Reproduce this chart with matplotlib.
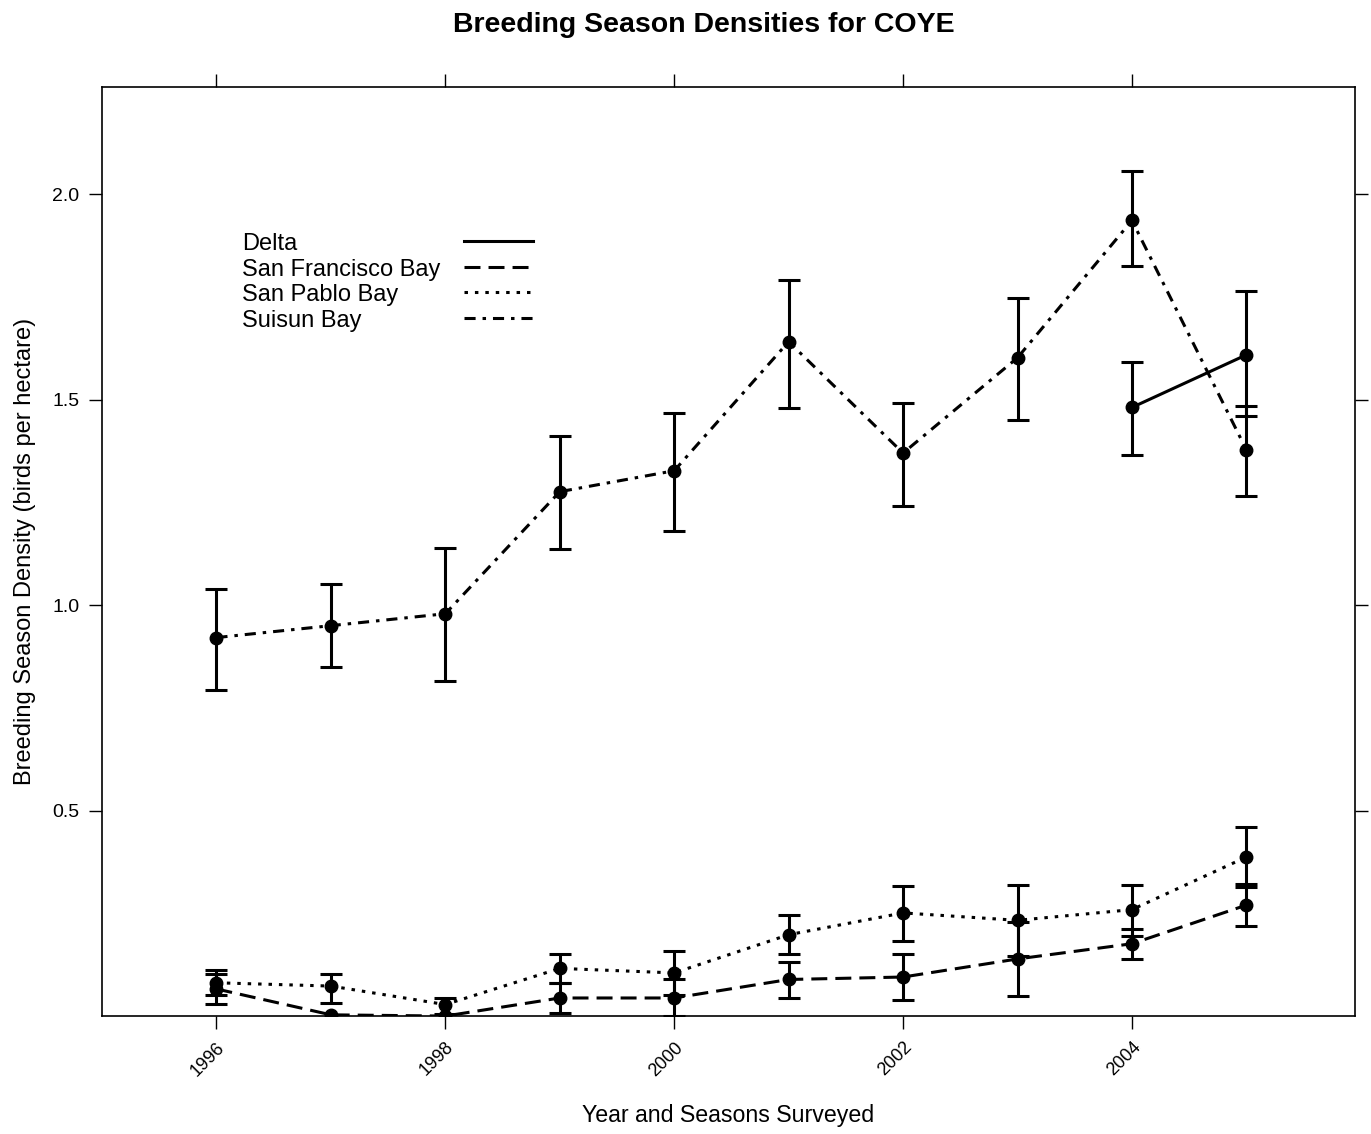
import numpy as np
import matplotlib
matplotlib.use("Agg")
import matplotlib.pyplot as plt

plt.rcParams['font.family'] = ['Liberation Sans', 'DejaVu Sans']
plt.rcParams['lines.scale_dashes'] = False

# data
years = [1996, 1997, 1998, 1999, 2000, 2001, 2002, 2003, 2004, 2005]

suisun = [0.921, 0.950, 0.979, 1.276, 1.327, 1.641, 1.370, 1.602, 1.936, 1.378]
suisun_lo = [0.794, 0.850, 0.816, 1.137, 1.181, 1.480, 1.240, 1.451, 1.824, 1.266]
suisun_hi = [1.040, 1.052, 1.140, 1.412, 1.468, 1.792, 1.492, 1.748, 2.057, 1.484]

delta_years = [2004, 2005]
delta = [1.481, 1.609]
delta_lo = [1.366, 1.460]
delta_hi = [1.592, 1.764]

spb = [0.081, 0.073, 0.028, 0.116, 0.105, 0.198, 0.251, 0.233, 0.259, 0.387]
spb_lo = [0.051, 0.032, 0.005, 0.080, 0.052, 0.150, 0.182, 0.147, 0.196, 0.315]
spb_hi = [0.111, 0.103, 0.043, 0.150, 0.158, 0.245, 0.316, 0.319, 0.319, 0.459]

sf = [0.066, 0.003, 0.0, 0.044, 0.044, 0.089, 0.095, 0.139, 0.176, 0.270]
sf_lo = [0.030, np.nan, np.nan, 0.007, 0.0, 0.043, 0.038, 0.050, 0.139, 0.220]
sf_hi = [0.102, np.nan, np.nan, 0.080, 0.091, 0.132, 0.150, 0.228, 0.213, 0.322]

labels = ['Delta', 'San Francisco Bay', 'San Pablo Bay', 'Suisun Bay']
styles = ['-', (0, (11.5, 5.8)), (0, (2.5, 5.0)), (0, (8.0, 5.0, 2.5, 5.0))]

fig = plt.figure(figsize=(13.71, 11.34), dpi=100)
ax = fig.add_axes([0.0744, 0.104, 0.914, 0.819])

series = [
    (delta_years, delta, delta_lo, delta_hi),
    (years, sf, sf_lo, sf_hi),
    (years, spb, spb_lo, spb_hi),
    (years, suisun, suisun_lo, suisun_hi),
]

lw = 2.2
for (x, y, lo, hi), ls in zip(series, styles):
    x = np.array(x, dtype=float)
    y = np.array(y)
    lo = np.array(lo)
    hi = np.array(hi)
    ax.plot(x, y, color='black', linestyle=ls, linewidth=lw, zorder=2)
    ok = ~np.isnan(lo)
    ax.errorbar(x[ok], y[ok], yerr=[y[ok] - lo[ok], hi[ok] - y[ok]], fmt='none',
                ecolor='black', elinewidth=lw, capsize=7.6, capthick=lw, zorder=3)
    ax.plot(x, y, 'o', color='black', markersize=9, zorder=4)

ax.set_xlim(1995.0, 2005.95)
ax.set_ylim(0.0, 2.26)

ax.set_xticks([1996, 1998, 2000, 2002, 2004])
ax.set_yticks([0.5, 1.0, 1.5, 2.0])
ax.set_yticklabels(['0.5', '1.0', '1.5', '2.0'], fontsize=14)
ax.set_xticklabels(['1996', '1998', '2000', '2002', '2004'], fontsize=13,
                   rotation=45, ha='right', va='top', rotation_mode='anchor')
ax.tick_params(direction='out', length=9.4, width=1.0, top=True, right=True,
               labeltop=False, labelright=False, pad=7)
for s in ax.spines.values():
    s.set_linewidth(1.2)

# legend drawn by hand: text column, then line samples column
leg_y = [0.831, 0.803, 0.776, 0.748]
for lab, ls, yy in zip(labels, styles, leg_y):
    ax.text(0.112, yy, lab, transform=ax.transAxes, fontsize=17,
            ha='left', va='center')
    ax.plot([0.289, 0.344], [yy + 0.004, yy + 0.004], transform=ax.transAxes,
            color='black', linestyle=ls, linewidth=lw, clip_on=False)

ax.set_xlabel('Year and Seasons Surveyed', fontsize=16.7)
ax.xaxis.set_label_coords(0.5, -0.095)
ax.set_ylabel('Breeding Season Density (birds per hectare)', fontsize=17)
ax.yaxis.set_label_coords(-0.0525, 0.5)
fig.text(0.513, 0.978, 'Breeding Season Densities for COYE', fontsize=20.5,
         fontweight='bold', ha='center', va='center')

fig.savefig('out.png', dpi=100)
